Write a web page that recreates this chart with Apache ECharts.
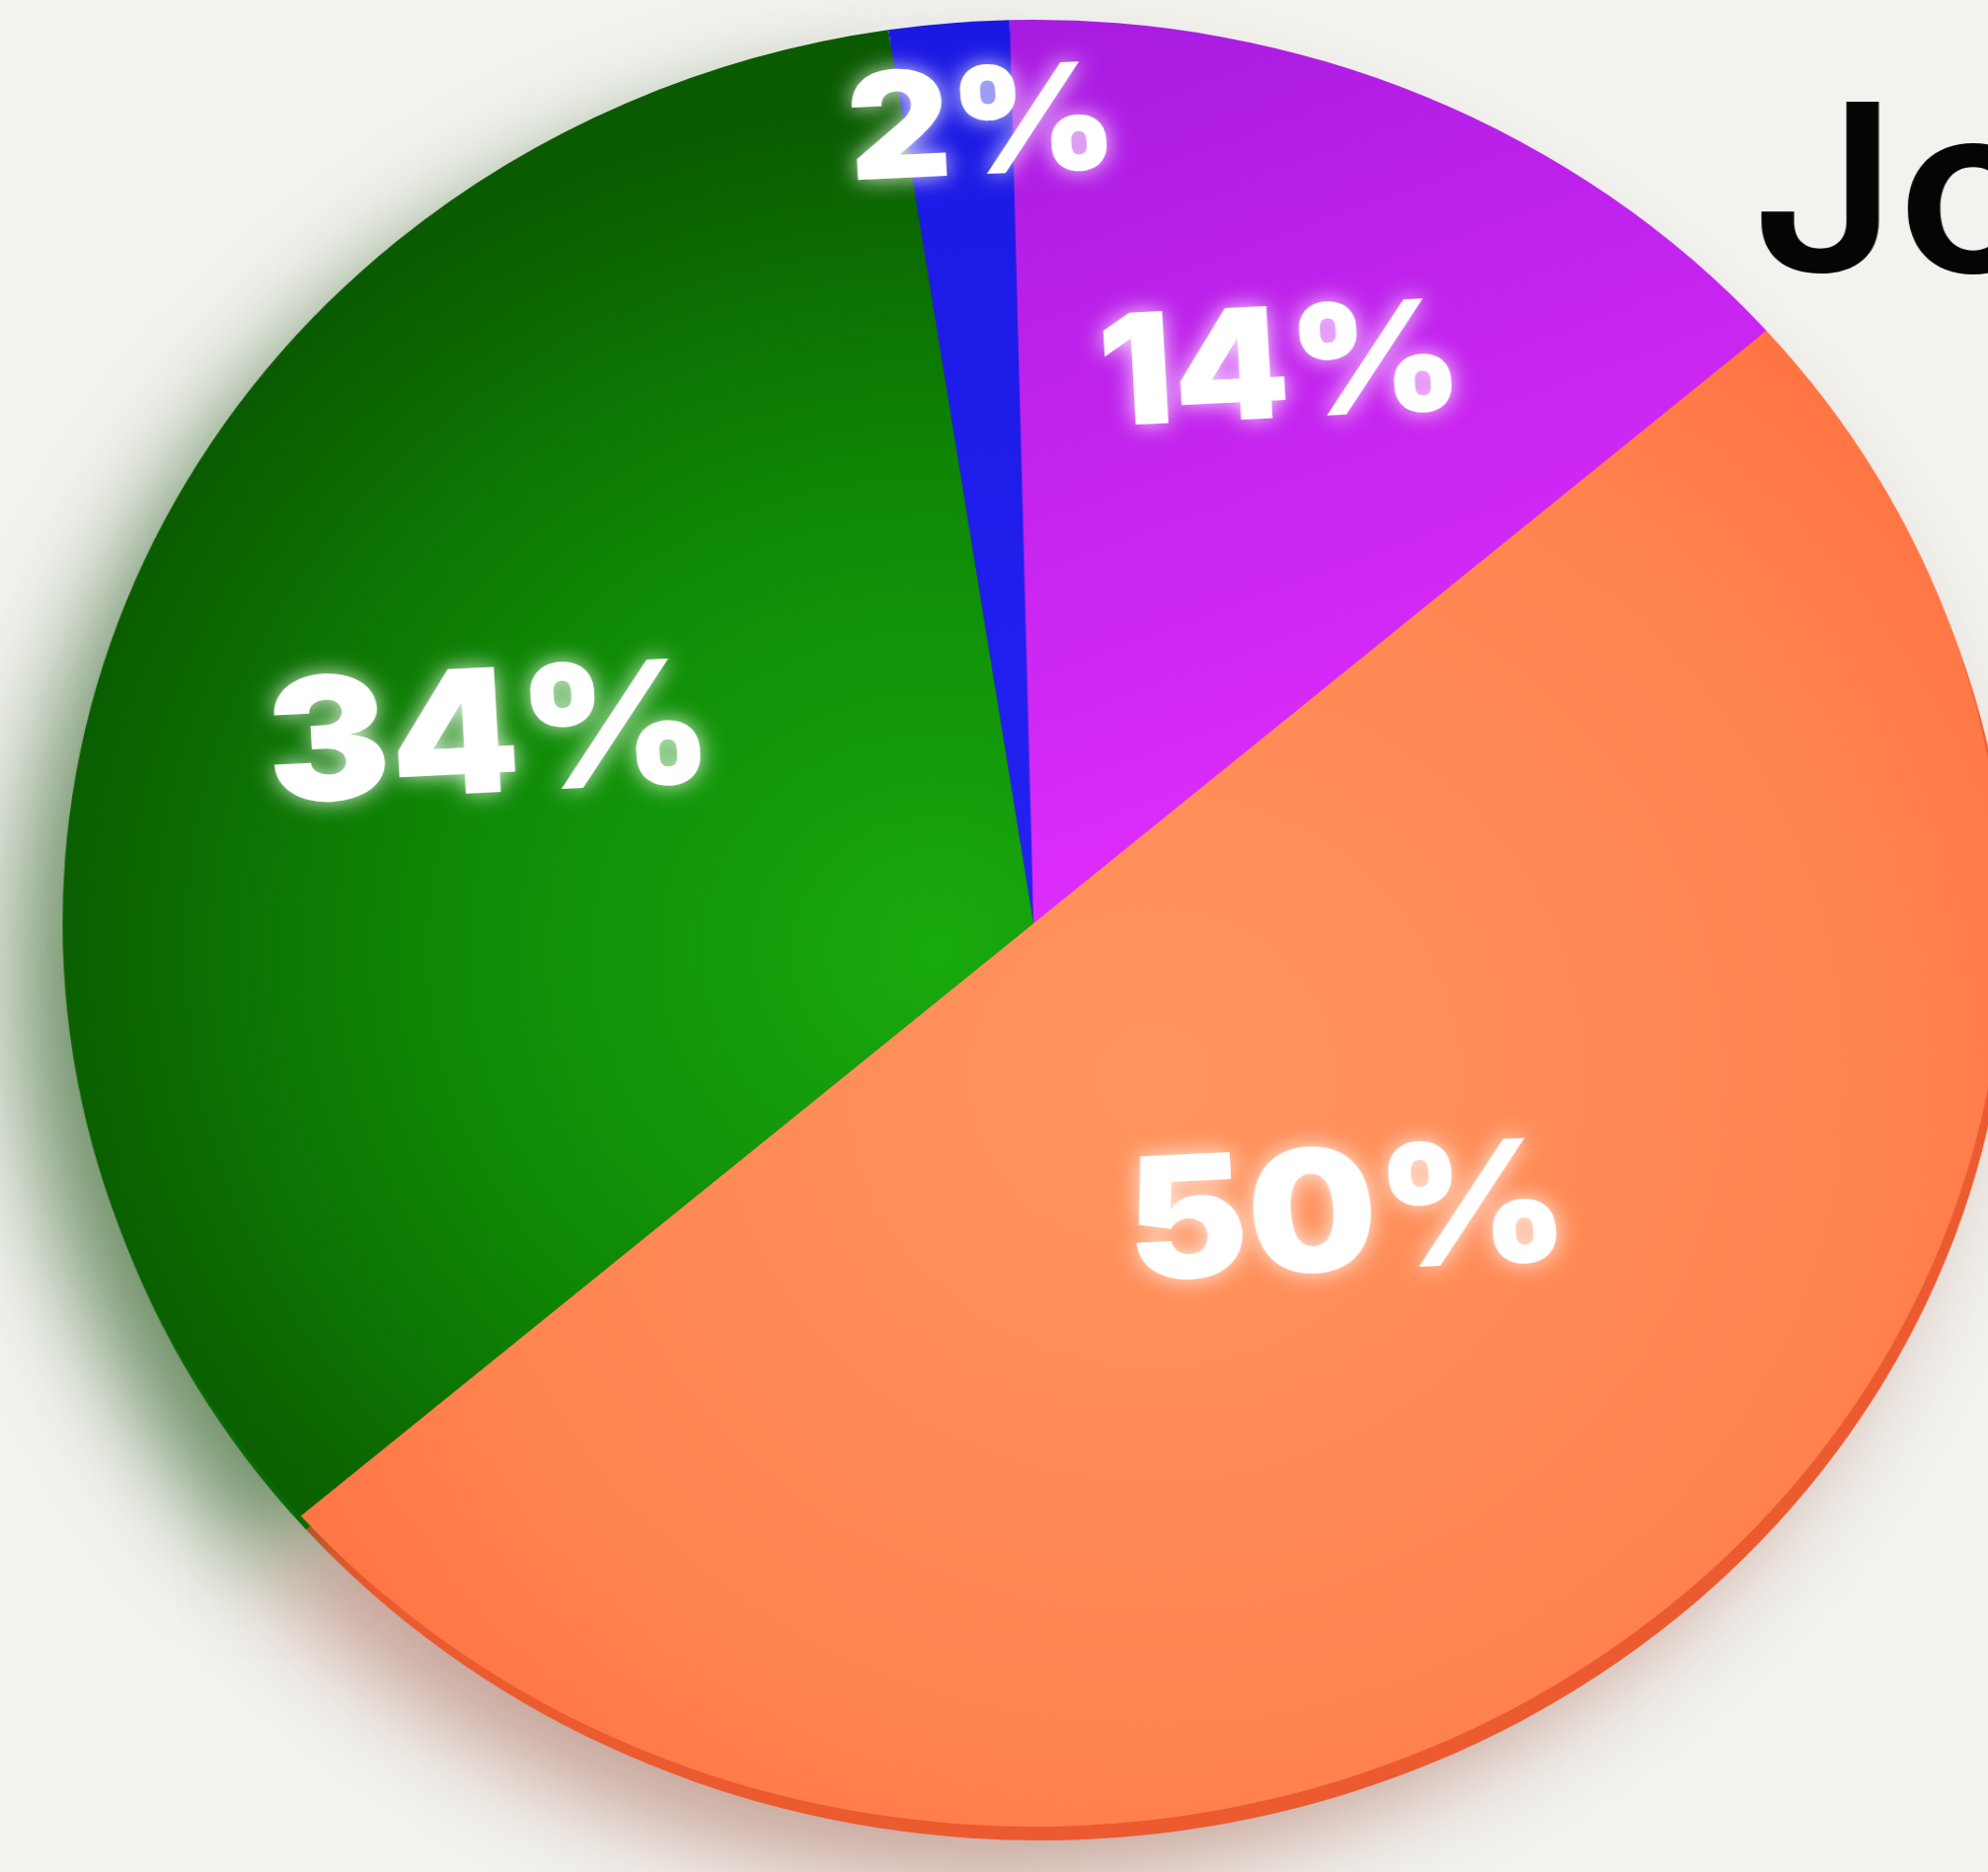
<!DOCTYPE html>
<html>
<head>
<meta charset="utf-8">
<script src="https://cdn.jsdelivr.net/npm/echarts@6/dist/echarts.min.js"></script>
<style>
  html, body { margin: 0; padding: 0; background: #f2f2ee; overflow: hidden; width: 2014px; height: 1896px; }
  #chart { width: 2014px; height: 1896px; transform: scaleX(1.075); transform-origin: 1047px 0; }
</style>
</head>
<body>
<div id="chart"></div>
<script>
// ---- data ----
const categories = ['Orange', 'Green', 'Blue', 'Purple'];
const values = [50, 34, 2, 14];
const labelTexts = ['50%', '34%', '2%', '14%'];
const titleText = 'Jo';

// ---- styling (kept separate from the data) ----
const fills = [
  { type: 'radial', x: 0.5, y: 0.5, r: 0.75, colorStops: [
      { offset: 0, color: '#ff955f' }, { offset: 0.6, color: '#ff8450' }, { offset: 1, color: '#ff683a' }] },
  { type: 'radial', x: 0.9, y: 0.62, r: 0.95, colorStops: [
      { offset: 0, color: '#18aa0e' }, { offset: 0.55, color: '#0f8806' }, { offset: 1, color: '#0a5a00' }] },
  { type: 'linear', x: 0, y: 0, x2: 0.3, y2: 1, colorStops: [
      { offset: 0, color: '#1a18e2' }, { offset: 1, color: '#2422f2' }] },
  { type: 'linear', x: 0, y: 0, x2: 0.5, y2: 1, colorStops: [
      { offset: 0, color: '#a71be0' }, { offset: 1, color: '#e52fff' }] }
];
const rimColors = ['#ec5a30', '#0a6a02', '#1a18d0', '#b020e0'];
const shadowColors = ['rgba(150,70,50,0.45)', 'rgba(25,80,15,0.6)', 'rgba(40,40,60,0.3)', 'rgba(80,40,90,0.3)'];
const labelSizes = [172, 174, 150, 156];
const labelNudge = [[-4, -48], [-79, -30], [10, -345], [54, -135]];

const chart = echarts.init(document.getElementById('chart'), null, { renderer: 'canvas' });

const pieData = categories.map((name, i) => ({
  name: name,
  value: values[i],
  itemStyle: { color: fills[i] },
  label: { fontSize: labelSizes[i], formatter: labelTexts[i] }
}));

const rimData = categories.map((name, i) => ({
  name: name,
  value: values[i],
  itemStyle: {
    color: rimColors[i],
    shadowColor: shadowColors[i],
    shadowBlur: 90,
    shadowOffsetX: -45,
    shadowOffsetY: 40
  }
}));

chart.setOption({
  animation: false,
  backgroundColor: '#f2f2ee',
  graphic: [{
    type: 'text',
    left: 1724,
    top: 86,
    z: 100,
    style: {
      text: titleText,
      font: '600 236px Inter, "Noto Sans", sans-serif',
      fill: '#050505'
    }
  }],
  series: [
    {
      // 3D rim and drop shadow under the pie
      type: 'pie',
      silent: true,
      z: 1,
      center: [1052, 949],
      radius: 915,
      startAngle: 41,
      clockwise: true,
      label: { show: false },
      labelLine: { show: false },
      emphasis: { disabled: true },
      data: rimData
    },
    {
      type: 'pie',
      z: 2,
      center: [1047, 935],
      radius: 915,
      startAngle: 41,
      clockwise: true,
      avoidLabelOverlap: false,
      itemStyle: { borderWidth: 0 },
      label: {
        show: true,
        position: 'inside',
        rotate: 3,
        color: '#ffffff',
        fontFamily: 'Inter, "Open Sans", sans-serif',
        fontWeight: 900,
        textShadowColor: 'rgba(255,255,255,0.85)',
        textShadowBlur: 22
      },
      labelLine: { show: false },
      emphasis: { disabled: true },
      labelLayout: function (params) {
        const n = labelNudge[params.dataIndex];
        return { dx: n[0], dy: n[1] };
      },
      data: pieData
    }
  ]
});
</script>
</body>
</html>
